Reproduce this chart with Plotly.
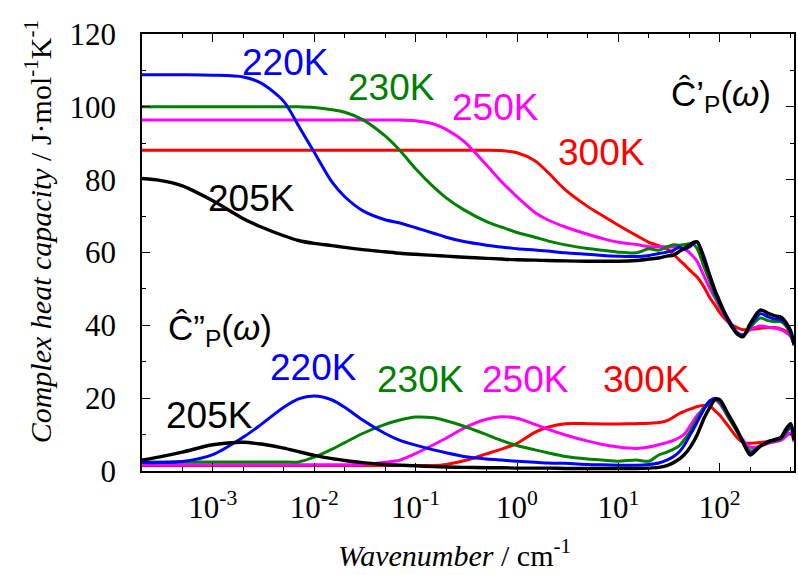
import plotly.graph_objects as go

# Wavenumber grid (cm^-1)
wavenumber = [2e-4, 3e-4, 5e-4, 1e-3, 2e-3, 3e-3, 5e-3, 7e-3, 1e-2, 1.5e-2, 2e-2, 3e-2, 5e-2, 7e-2,
              0.1, 0.15, 0.2, 0.3, 0.5, 0.7, 1, 1.5, 2, 3, 5, 7, 10, 15, 20, 25, 30, 35, 40, 45, 50,
              55, 60, 70, 80, 90, 100, 120, 150, 170, 200, 250, 300, 350, 400, 450, 500, 540]

# Real part C'_P (J mol^-1 K^-1)
cp_205 = [80.3, 79.8, 78.3, 74.2, 69.3, 67.0, 64.6, 63.3, 62.5, 61.9, 61.4, 60.8, 60.2, 59.8,
          59.5, 59.2, 59.0, 58.7, 58.4, 58.2, 58.0, 57.9, 57.8, 57.7, 57.6, 57.6, 57.6, 57.8, 58.2, 58.5,
          59.0, 59.3, 60.3, 61.2, 62.0, 62.8, 62.9, 58.0, 53.5, 49.5, 46.5, 41.5, 37.5, 36.9, 40.5, 44.2,
          43.3, 42.6, 42.3, 40.8, 38.5, 35.0]
cp_220 = [108.8, 108.8, 108.8, 108.7, 108.2, 106.5, 101.5, 94.8, 87.5, 79.3, 75.3, 71.5, 69.0, 68.1,
          66.8, 65.3, 64.2, 63.0, 62.0, 61.5, 61.0, 60.7, 60.4, 59.9, 59.5, 59.2, 59.0, 58.9, 59.2, 59.7,
          60.1, 60.6, 61.5, 60.9, 61.5, 62.4, 62.9, 58.8, 53.5, 49.0, 46.0, 42.0, 37.8, 37.3, 40.0, 43.2,
          42.3, 41.7, 41.6, 40.3, 38.0, 34.5]
cp_230 = [100.0, 100.0, 100.0, 100.0, 100.0, 100.0, 100.0, 100.0, 99.8, 99.2, 98.5, 96.5, 92.0, 88.0,
          83.0, 78.0, 75.0, 71.7, 68.5, 67.0, 65.5, 64.2, 63.2, 62.1, 61.1, 60.6, 60.1, 59.9, 61.0, 60.6,
          61.5, 62.1, 62.0, 62.2, 62.4, 62.2, 61.0, 56.0, 52.0, 48.0, 45.5, 41.5, 37.8, 37.3, 39.5, 42.0,
          41.3, 41.0, 41.0, 39.8, 37.5, 34.5]
cp_250 = [96.4, 96.4, 96.4, 96.4, 96.4, 96.4, 96.4, 96.4, 96.4, 96.4, 96.4, 96.4, 96.4, 96.4,
          96.2, 95.3, 93.8, 90.5, 84.0, 79.5, 75.3, 71.0, 69.0, 67.0, 65.0, 63.8, 62.8, 62.2, 61.6, 61.6,
          61.6, 61.5, 61.2, 60.9, 60.0, 58.8, 57.5, 53.5, 50.0, 47.5, 45.0, 41.0, 38.0, 37.4, 38.8, 39.8,
          39.5, 39.2, 38.8, 38.0, 37.0, 35.5]
cp_300 = [88.1, 88.1, 88.1, 88.1, 88.1, 88.1, 88.1, 88.1, 88.1, 88.1, 88.1, 88.1, 88.1, 88.1,
          88.1, 88.1, 88.1, 88.1, 88.1, 88.0, 87.4, 85.2, 82.1, 77.2, 72.6, 70.1, 67.5, 64.7, 62.8, 61.9,
          61.0, 59.5, 57.9, 56.6, 55.3, 54.2, 53.2, 50.5, 47.5, 45.5, 43.5, 41.0, 39.3, 38.8, 38.9, 39.2,
          39.4, 39.4, 39.0, 38.3, 37.0, 35.0]

# Imaginary part C''_P (J mol^-1 K^-1)
cpp_205 = [3.0, 3.9, 5.2, 7.2, 7.9, 7.4, 6.3, 5.3, 4.3, 3.4, 2.9, 2.3, 1.8, 1.6,
           1.4, 1.2, 1.1, 1.0, 0.9, 0.9, 0.8, 0.8, 0.8, 0.7, 0.7, 0.7, 0.7, 0.7, 0.8, 1.0,
           1.5, 2.3, 3.3, 4.6, 6.2, 8.0, 10.0, 14.5, 17.5, 19.6, 19.6, 15.8, 11.0, 7.8, 4.4, 6.8,
           8.0, 8.6, 9.2, 11.5, 13.0, 8.5]
cpp_220 = [2.3, 2.3, 2.6, 4.5, 9.3, 12.8, 17.5, 19.8, 20.6, 19.5, 17.5, 14.0, 10.3, 8.4,
           7.1, 5.8, 5.0, 4.0, 3.3, 3.0, 2.7, 2.4, 2.2, 2.1, 1.8, 1.7, 1.6, 1.6, 1.8, 2.2,
           3.0, 4.0, 5.3, 7.2, 9.5, 11.5, 13.5, 17.0, 19.3, 20.0, 19.3, 15.5, 10.8, 7.8, 4.8, 6.8,
           8.0, 8.5, 9.0, 11.0, 12.5, 8.5]
cpp_230 = [2.5, 2.5, 2.5, 2.5, 2.5, 2.5, 2.5, 2.5, 3.8, 6.0, 7.8, 10.3, 12.8, 14.0,
           14.8, 14.6, 13.8, 12.3, 10.0, 8.4, 7.0, 5.8, 5.0, 4.0, 3.3, 3.0, 2.7, 3.0, 2.7, 4.4,
           5.2, 6.0, 7.0, 8.7, 10.5, 12.5, 14.3, 17.5, 19.2, 19.7, 18.8, 15.0, 10.5, 8.0, 5.5, 6.8,
           7.8, 8.3, 8.8, 10.5, 11.8, 8.5]
cpp_250 = [1.7, 1.7, 1.7, 1.7, 1.7, 1.7, 1.7, 1.7, 1.7, 1.7, 1.7, 1.8, 2.4, 3.0,
           4.8, 7.2, 9.0, 11.8, 14.2, 14.9, 14.5, 12.8, 11.5, 9.9, 8.2, 7.3, 6.6, 6.2, 6.6, 7.2,
           7.8, 8.4, 9.2, 10.2, 12.0, 13.8, 15.3, 17.3, 18.8, 19.4, 18.5, 15.0, 10.8, 8.5, 6.5, 6.8,
           7.6, 8.0, 8.4, 9.5, 10.5, 8.0]
cpp_300 = [1.5, 1.5, 1.5, 1.5, 1.5, 1.5, 1.5, 1.5, 1.5, 1.5, 1.5, 1.5, 1.5, 1.5,
           1.5, 1.5, 1.8, 2.8, 4.7, 6.0, 7.6, 10.6, 12.0, 13.0, 13.0, 12.9, 12.9, 13.0, 13.1, 13.3,
           13.8, 14.8, 15.8, 16.4, 16.9, 17.3, 17.7, 18.0, 17.8, 16.5, 15.3, 12.5, 9.0, 7.8, 7.6, 7.8,
           8.2, 8.7, 9.2, 9.8, 10.2, 9.0]

temperatures = ["300K", "250K", "230K", "220K", "205K"]
colors = ["#FF0000", "#FF00FF", "#008000", "#0000FF", "#000000"]
real_parts = [cp_300, cp_250, cp_230, cp_220, cp_205]
imag_parts = [cpp_300, cpp_250, cpp_230, cpp_220, cpp_205]

x_tickvals = [1e-3, 1e-2, 1e-1, 1e0, 1e1, 1e2]
x_ticktext = ["10<sup>-3</sup>", "10<sup>-2</sup>", "10<sup>-1</sup>", "10<sup>0</sup>",
              "10<sup>1</sup>", "10<sup>2</sup>"]
x_minor = [m * 10 ** e for e in range(-4, 3) for m in (2, 5)]
y_tickvals = [0, 20, 40, 60, 80, 100, 120]

fig = go.Figure()
for T, c, re_, im_ in zip(temperatures, colors, real_parts, imag_parts):
    w = 3.4 if T == "205K" else 3
    fig.add_trace(go.Scatter(x=wavenumber, y=re_, mode="lines", name=T + " C'",
                             line=dict(color=c, width=w, shape="spline", smoothing=0.8)))
    fig.add_trace(go.Scatter(x=wavenumber, y=im_, mode="lines", name=T + " C''",
                             line=dict(color=c, width=w, shape="spline", smoothing=0.8)))

L, R, T_, B = 142, 2, 34, 104
W, H = 798, 575
pw, ph = W - L - R, H - T_ - B


def px(x):
    return (x - L) / pw


def py(y):
    return (H - B - y) / ph


serif = "Liberation Serif, Times New Roman, serif"
sans = "Liberation Sans, Arial, sans-serif"

fig.update_layout(
    width=W, height=H,
    margin=dict(l=L, r=R, t=T_, b=B),
    paper_bgcolor="white", plot_bgcolor="white",
    showlegend=False,
    xaxis=dict(type="log", range=[-3.699, 2.732], showgrid=False, zeroline=False,
               showline=True, linecolor="black", linewidth=1.5, mirror="allticks",
               ticks="inside", ticklen=8, tickwidth=1.2, tickcolor="black",
               tickmode="array", tickvals=x_tickvals, ticktext=x_ticktext,
               ticklabelstandoff=8,
               tickfont=dict(family=serif, size=31, color="black"),
               minor=dict(tickmode="array", tickvals=x_minor, ticks="inside",
                          ticklen=4, tickwidth=1, tickcolor="black")),
    yaxis=dict(range=[0, 120], showgrid=False, zeroline=False,
               showline=True, linecolor="black", linewidth=1.5, mirror="allticks",
               ticks="inside", ticklen=8, tickwidth=1.2, tickcolor="black",
               tickmode="array", tickvals=y_tickvals, ticklabelstandoff=18,
               tickfont=dict(family=serif, size=31, color="black"),
               minor=dict(dtick=10, ticks="inside", ticklen=4, tickwidth=1, tickcolor="black")),
)

labels = [
    ("220K", "#0000FF", 286, 62), ("230K", "#008000", 392, 87),
    ("250K", "#FF00FF", 497, 107), ("300K", "#FF0000", 603, 152),
    ("205K", "#000000", 252, 198),
    ("220K", "#0000FF", 314, 367), ("230K", "#008000", 421, 379),
    ("250K", "#FF00FF", 527, 379), ("300K", "#FF0000", 648, 379),
    ("205K", "#000000", 210, 415),
]
for text, c, x, y in labels:
    fig.add_annotation(xref="paper", yref="paper", x=px(x), y=py(y), text=text,
                       showarrow=False, xanchor="center", yanchor="middle",
                       font=dict(family=sans, size=37, color=c))

fig.add_annotation(xref="paper", yref="paper", x=px(723), y=py(96),
                   text="Ĉ’<sub>P</sub>(<i>ω</i>)", showarrow=False,
                   xanchor="center", yanchor="middle",
                   font=dict(family=sans, size=35, color="black"))
fig.add_annotation(xref="paper", yref="paper", x=px(220), y=py(330),
                   text="Ĉ”<sub>P</sub>(<i>ω</i>)", showarrow=False,
                   xanchor="center", yanchor="middle",
                   font=dict(family=sans, size=35, color="black"))

fig.add_annotation(xref="paper", yref="paper", x=px(38), y=py(232), textangle=-90,
                   text="<i>Complex heat capacity</i> / J·mol<sup>-1</sup>K<sup>-1</sup>",
                   showarrow=False, xanchor="center", yanchor="middle",
                   font=dict(family=serif, size=30, color="black"))
fig.add_annotation(xref="paper", yref="paper", x=px(455), y=py(553),
                   text="<i>Wavenumber</i> / cm<sup>-1</sup>",
                   showarrow=False, xanchor="center", yanchor="middle",
                   font=dict(family=serif, size=30, color="black"))

fig.write_html("out.html")
